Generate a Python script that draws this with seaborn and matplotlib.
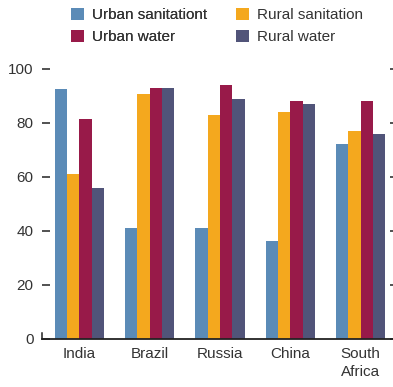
import matplotlib
matplotlib.use("Agg")
import matplotlib.pyplot as plt
from matplotlib.patches import Patch
import seaborn as sns
import pandas as pd

countries = ["India", "Brazil", "Russia", "China", "South\nAfrica"]
series = ["Urban sanitationt", "Rural sanitation", "Urban water", "Rural water"]
urban_sanitation = [92.4, 40.9, 40.9, 36.1, 72.0]
rural_sanitation = [60.9, 90.9, 82.8, 83.9, 76.9]
urban_water = [81.3, 92.8, 93.9, 88.0, 88.0]
rural_water = [55.9, 92.8, 88.7, 86.9, 75.7]
y_ticks = [0, 20, 40, 60, 80, 100]

colors = ["#5B8BB7", "#F4A81E", "#981A49", "#515479"]

rows = []
for name, vals in zip(series, [urban_sanitation, rural_sanitation, urban_water, rural_water]):
    for c, v in zip(countries, vals):
        rows.append({"country": c, "series": name, "value": v})
df = pd.DataFrame(rows)

sns.set_theme(style="white")
plt.rcParams["font.family"] = ["Liberation Sans", "DejaVu Sans"]
text_color = "#333333"
fs = 11

W, H = 393, 387
fig = plt.figure(figsize=(W / 100, H / 100), dpi=100)
ax = fig.add_axes([42 / W, 1 - 338.5 / H, 351 / W, (338.5 - 69) / H])

sns.barplot(data=df, x="country", y="value", hue="series", hue_order=series,
            order=countries, palette=colors, width=0.70, saturation=1,
            edgecolor="none", linewidth=0, ax=ax, legend=False)

ax.set_xlim(-0.53, 4.46)
ax.set_ylim(0, 100)
ax.set_yticks(y_ticks)
ax.set_xlabel("")
ax.set_ylabel("")

for s in ["top", "right"]:
    ax.spines[s].set_visible(False)
ax.spines["bottom"].set_color("#222222")
ax.spines["bottom"].set_linewidth(1.3)
ax.spines["left"].set_color("#222222")
ax.spines["left"].set_linewidth(1.1)
ax.spines["left"].set_bounds(0, 2)

ax.tick_params(axis="x", length=0, pad=6, labelsize=fs, labelcolor=text_color)
ax.tick_params(axis="y", direction="in", length=5.5, width=1.1, color="#222222",
               pad=6, labelsize=fs, labelcolor=text_color, left=True, right=True)
# short right-hand ticks
for t in ax.yaxis.get_major_ticks():
    t.tick2line.set_markersize(2)
for lbl in ax.get_xticklabels():
    lbl.set_linespacing(1.4)

handles = [Patch(facecolor=c, edgecolor="none") for c in colors]
legend_kw = dict(loc="upper left", ncol=1, frameon=False, fontsize=fs,
                 labelcolor=text_color, handlelength=0.85, handleheight=0.85,
                 handletextpad=0.5, labelspacing=0.5, borderpad=0,
                 borderaxespad=0)
# left column: urban series, right column: rural series
leg1 = fig.legend([handles[0], handles[2]], [series[0], series[2]],
                  bbox_to_anchor=(71 / W, 1 - 8 / H), **legend_kw)
fig.add_artist(leg1)
fig.legend([handles[1], handles[3]], [series[1], series[3]],
           bbox_to_anchor=(236 / W, 1 - 8 / H), **legend_kw)

fig.savefig("out.png", dpi=100)
